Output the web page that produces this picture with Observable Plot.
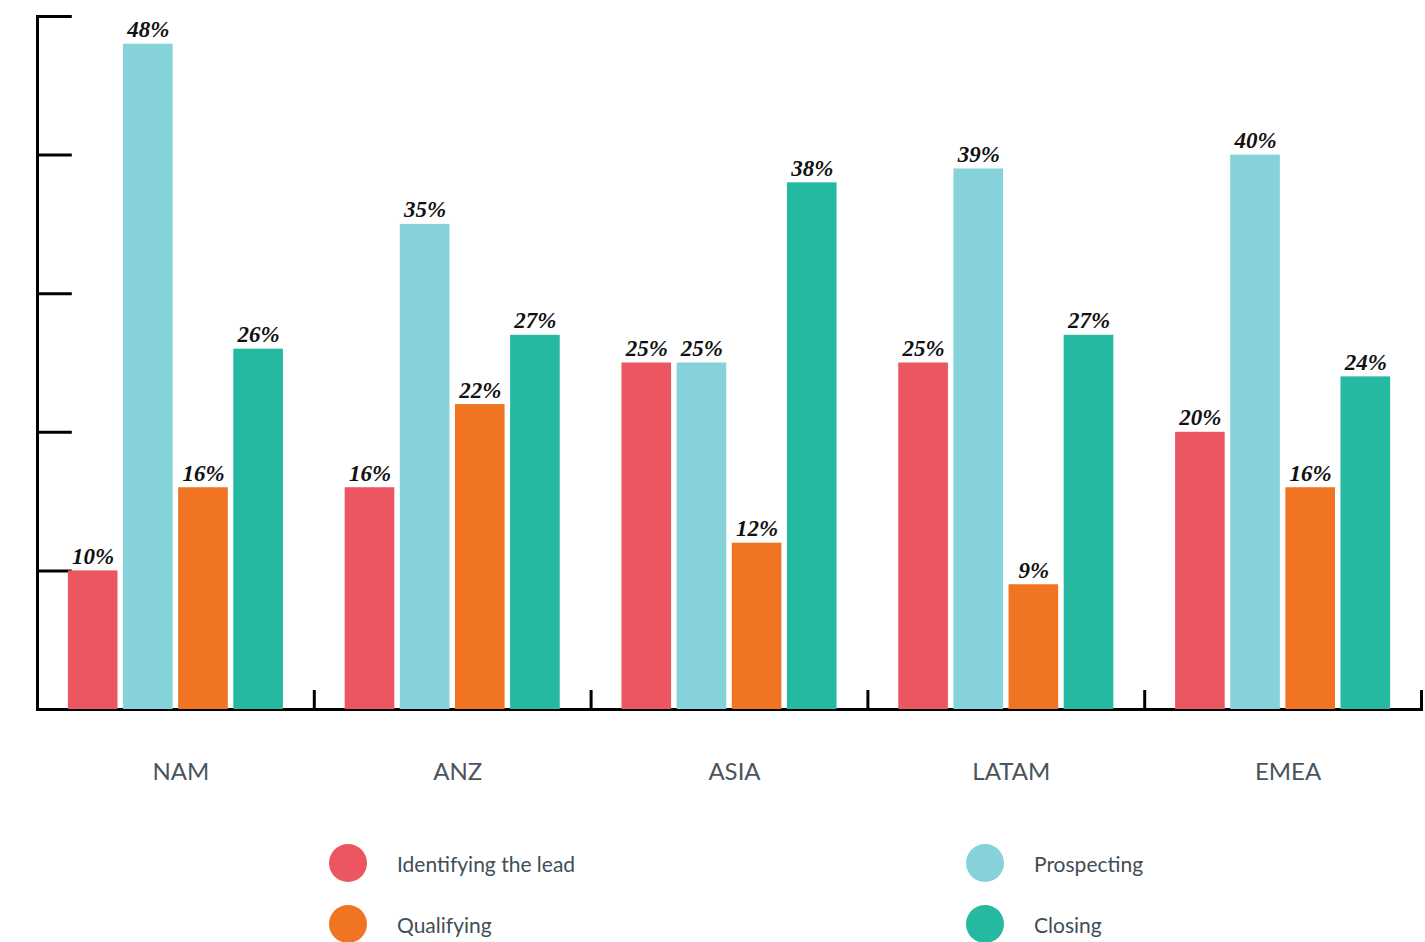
<!DOCTYPE html>
<html>
<head>
<meta charset="utf-8">
<script src="https://cdn.jsdelivr.net/npm/d3@7"></script>
<script src="https://cdn.jsdelivr.net/npm/@observablehq/plot@0.6"></script>
<style>
  html, body { margin: 0; padding: 0; background: #fff; }
  #chart svg { display: block; }
  .legend { display: grid; grid-template-columns: 637px auto; margin-left: 329px; row-gap: 23px; margin-top: 34px; }
  .item { display: flex; align-items: center; height: 38px; font-family: Lato, "Noto Sans", sans-serif; font-size: 21px; color: #434d55; }
  .dot { width: 38px; height: 38px; border-radius: 50%; margin-right: 30px; flex: none; }
</style>
</head>
<body>
<div id="chart"></div>
<div class="legend" id="legend"></div>
<script>
const regions = ["NAM", "ANZ", "ASIA", "LATAM", "EMEA"];
const series = ["Identifying the lead", "Prospecting", "Qualifying", "Closing"];
const colors = ["#EC5660", "#85D2DB", "#F07421", "#25B9A2"];
const identifyingLead = [10, 16, 25, 25, 20];
const prospecting = [48, 35, 25, 39, 40];
const qualifying = [16, 22, 12, 9, 16];
const closing = [26, 27, 38, 27, 24];
const yTicks = [0, 10, 20, 30, 40, 50];
const legendOrder = ["Identifying the lead", "Prospecting", "Qualifying", "Closing"];

const seriesValues = [identifyingLead, prospecting, qualifying, closing];
const data = [];
regions.forEach((r, i) => series.forEach((s, j) => data.push({region: r, series: s, value: seriesValues[j][i]})));

const plot = Plot.plot({
  width: 1425,
  height: 810,
  marginTop: 16,
  marginLeft: 37,
  marginRight: 4,
  marginBottom: 101,
  fx: {domain: regions, padding: 0, round: false},
  x: {domain: series, paddingInner: 0.1, paddingOuter: 0.56, round: false, axis: null},
  y: {domain: [0, 50], axis: null},
  color: {domain: series, range: colors},
  marks: [
    Plot.ruleY([0], {stroke: "#000", strokeWidth: 3}),
    Plot.frame({anchor: "left", facetAnchor: "left", stroke: "#000", strokeWidth: 3}),
    Plot.ruleY(yTicks.filter(d => d > 0), {y: d => d, facetAnchor: "left", insetRight: 242, stroke: "#000", strokeWidth: 3}),
    Plot.frame({anchor: "right", insetTop: 675, stroke: "#000", strokeWidth: 3}),
    Plot.barY(data, {fx: "region", x: "series", y: "value", fill: "series"}),
    Plot.text(data, {fx: "region", x: "series", y: "value", text: d => d.value + "%", lineAnchor: "bottom", dy: -7,
      fontFamily: "Liberation Serif", fontWeight: "bold", fontStyle: "italic", fontSize: 23, fill: "#111"}),
    Plot.axisFx({anchor: "bottom", tickSize: 0, tickPadding: 53, fontSize: 24, label: null, fill: "#4a545c",
      fontFamily: "Lato, 'Noto Sans', sans-serif", dx: 5})
  ]
});
document.getElementById("chart").appendChild(plot);

const legend = document.getElementById("legend");
legendOrder.forEach(s => {
  const it = document.createElement("div");
  it.className = "item";
  const dot = document.createElement("span");
  dot.className = "dot";
  dot.style.background = colors[series.indexOf(s)];
  it.appendChild(dot);
  it.appendChild(document.createTextNode(s));
  legend.appendChild(it);
});
</script>
</body>
</html>
